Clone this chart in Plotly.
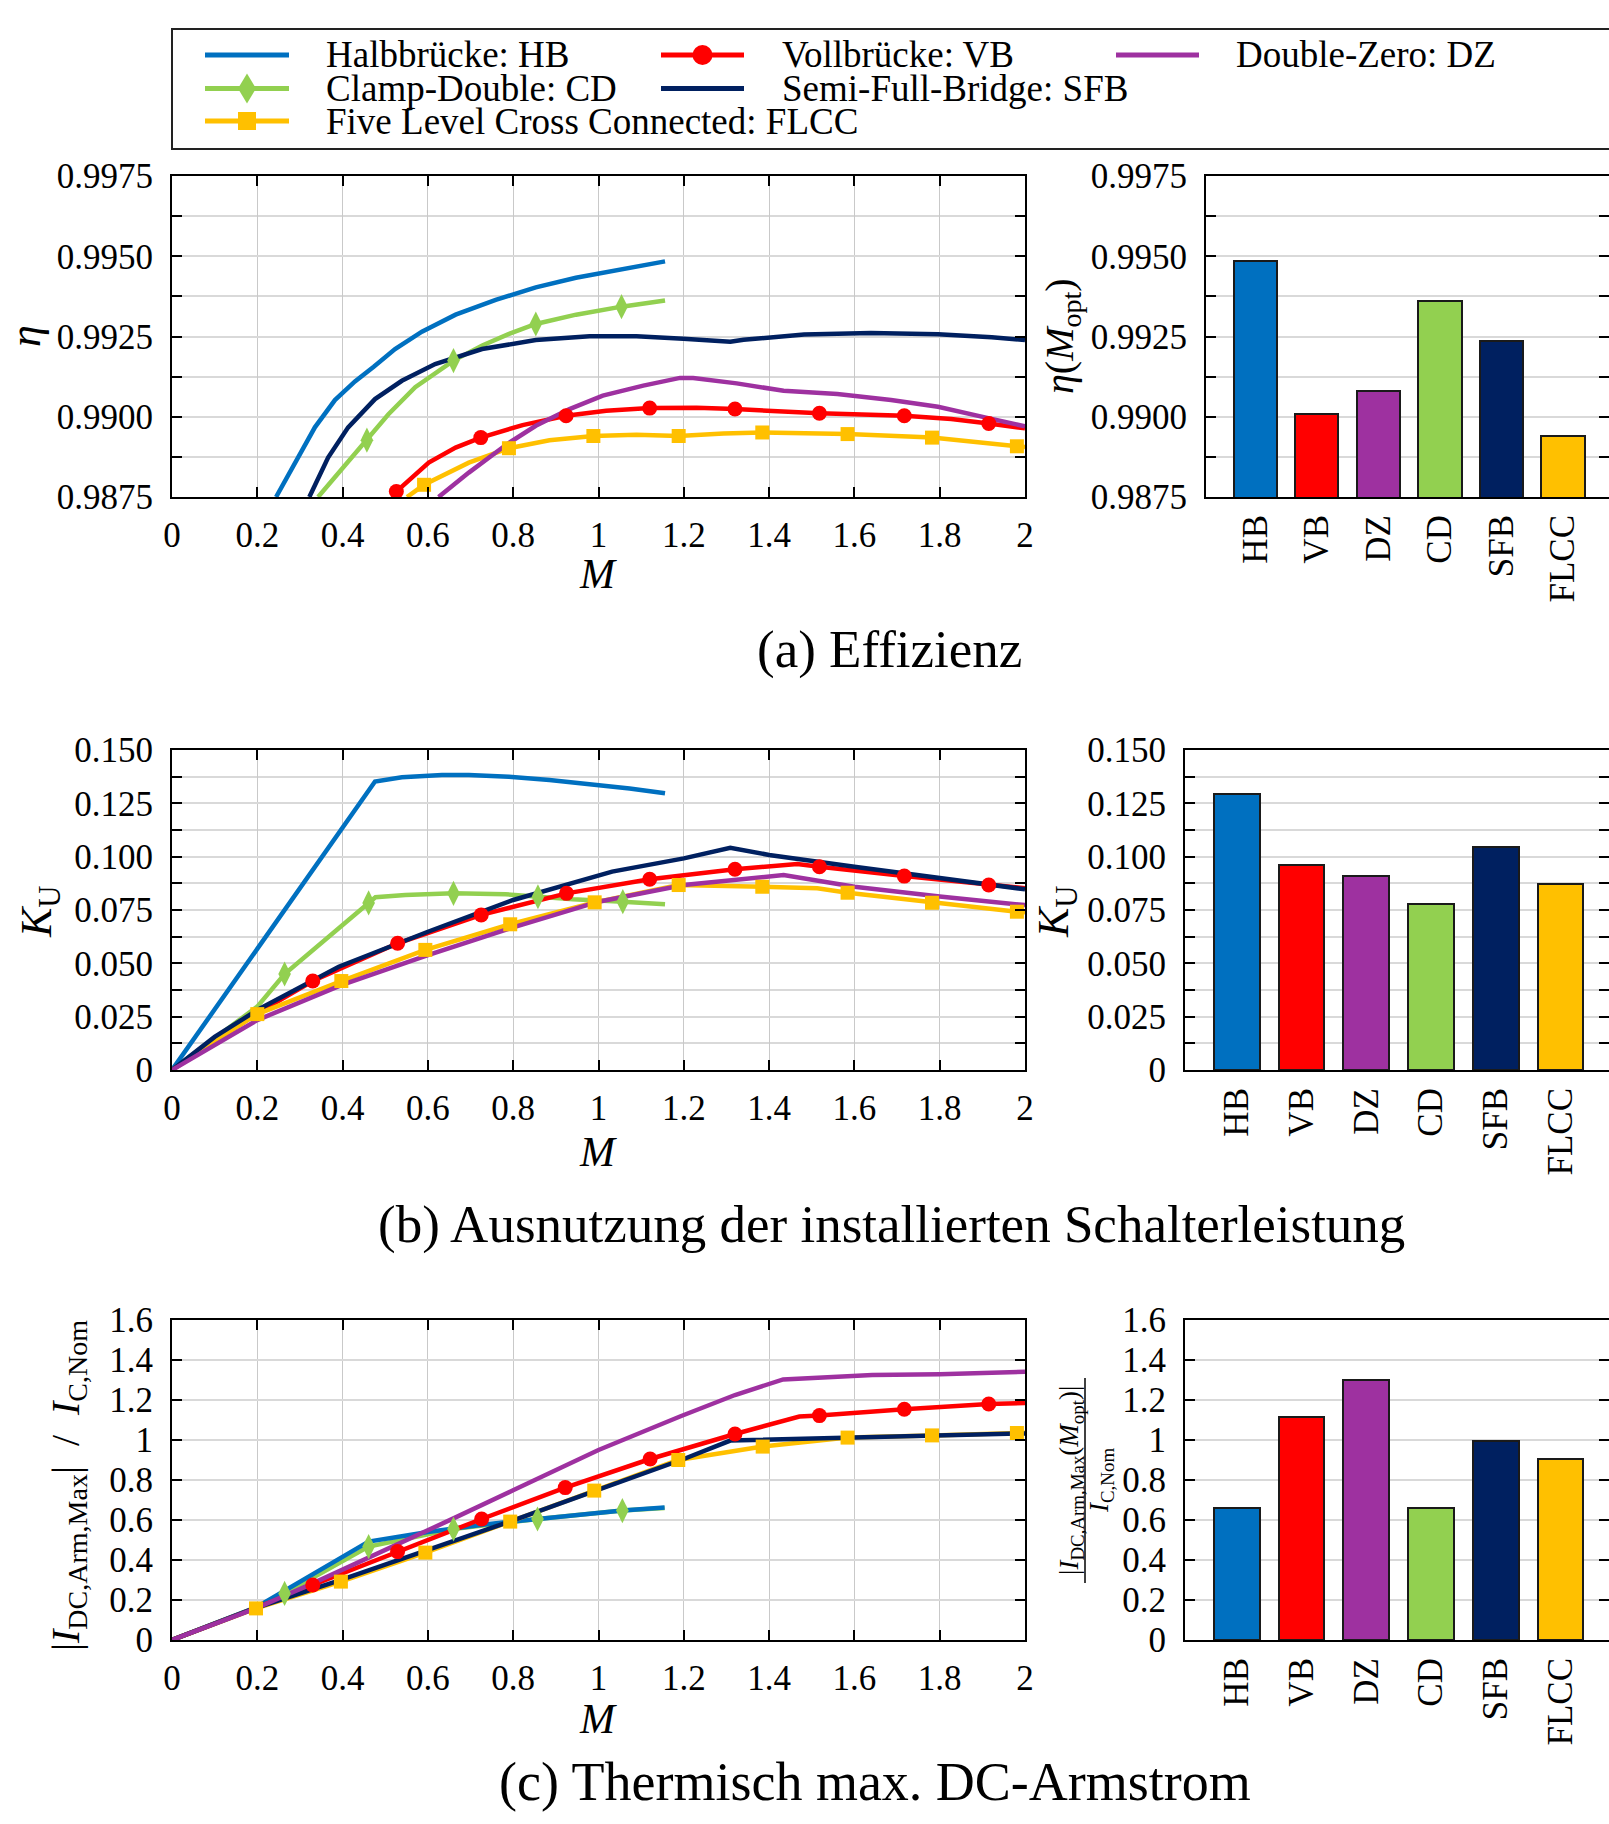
import plotly.graph_objects as go

W, H = 1609, 1824
FONT = "Liberation Serif"

# ---------------- colours ----------------
C_HB, C_VB, C_DZ = "#0070C0", "#FF0000", "#9E31A0"
C_CD, C_SFB, C_FLCC = "#92D050", "#002060", "#FFC000"

CATS = ["HB", "VB", "DZ", "CD", "SFB", "FLCC"]
CAT_COLORS = [C_HB, C_VB, C_DZ, C_CD, C_SFB, C_FLCC]

# ---------------- (a) efficiency ----------------
A_HB_M = [0.244, 0.288, 0.335, 0.382, 0.429, 0.473, 0.523, 0.586, 0.665, 0.759, 0.853, 0.947, 1.057, 1.156]
A_HB_Y = [0.9875, 0.98857, 0.98967, 0.99052, 0.99110, 0.99156, 0.99211, 0.99265, 0.99318, 0.99364, 0.99403, 0.99433, 0.99460, 0.99484]
A_CD_M = [0.3425, 0.3975, 0.457, 0.5075, 0.5703, 0.660, 0.7274, 0.7903, 0.853, 0.9474, 1.054, 1.156]
A_CD_Y = [0.9875, 0.98837, 0.98927, 0.99008, 0.99092, 0.99175, 0.99222, 0.99258, 0.99289, 0.99318, 0.99343, 0.99362]
A_CD_MK_M = [0.457, 0.660, 0.853, 1.054]
A_CD_MK_Y = [0.98927, 0.99175, 0.99289, 0.99343]
A_SFB_M = [0.322, 0.366, 0.413, 0.476, 0.539, 0.617, 0.727, 0.853, 0.979, 1.089, 1.199, 1.309, 1.340, 1.482, 1.639, 1.796, 1.922, 2.0]
A_SFB_Y = [0.9875, 0.98873, 0.98967, 0.99055, 0.99112, 0.99164, 0.99211, 0.99239, 0.99251, 0.99251, 0.99243, 0.99234, 0.99240, 0.99256, 0.99261, 0.99257, 0.99248, 0.99239]
A_VB_M = [0.520, 0.526, 0.602, 0.665, 0.724, 0.822, 0.924, 1.018, 1.120, 1.230, 1.320, 1.419, 1.518, 1.717, 1.827, 1.915, 2.0]
A_VB_Y = [0.9875, 0.98767, 0.98857, 0.98904, 0.98935, 0.98974, 0.99003, 0.99019, 0.99027, 0.99028, 0.99024, 0.99016, 0.99011, 0.99003, 0.98993, 0.98979, 0.98964]
A_VB_MK_M = [0.526, 0.724, 0.924, 1.120, 1.320, 1.518, 1.717, 1.915]
A_VB_MK_Y = [0.98767, 0.98935, 0.99003, 0.99027, 0.99024, 0.99011, 0.99003, 0.98979]
A_FLCC_M = [0.551, 0.591, 0.696, 0.790, 0.885, 0.988, 1.089, 1.188, 1.293, 1.384, 1.584, 1.782, 1.981, 2.0]
A_FLCC_Y = [0.9875, 0.98788, 0.98857, 0.98902, 0.98927, 0.98940, 0.98944, 0.98940, 0.98948, 0.98951, 0.98946, 0.98935, 0.98908, 0.98906]
A_FLCC_MK_M = [0.591, 0.790, 0.988, 1.188, 1.384, 1.584, 1.782, 1.981]
A_FLCC_MK_Y = [0.98788, 0.98902, 0.98940, 0.98940, 0.98951, 0.98946, 0.98935, 0.98908]
A_DZ_M = [0.625, 0.696, 0.786, 0.853, 0.932, 1.010, 1.105, 1.191, 1.222, 1.324, 1.434, 1.560, 1.686, 1.796, 1.906, 2.0]
A_DZ_Y = [0.9875, 0.98826, 0.98915, 0.98972, 0.99024, 0.99066, 0.99097, 0.99121, 0.99121, 0.99104, 0.99081, 0.99071, 0.99052, 0.99031, 0.98998, 0.98970]
BAR_A = [0.99485, 0.99010, 0.99079, 0.99362, 0.99235, 0.98940]

# ---------------- (b) switch utilisation ----------------
B_HB_M = [0, 0.476, 0.539, 0.633, 0.696, 0.790, 0.885, 0.979, 1.073, 1.156]
B_HB_Y = [0, 0.1352, 0.1372, 0.1383, 0.1383, 0.1375, 0.1359, 0.1341, 0.1320, 0.1297]
B_CD_M = [0, 0.2, 0.264, 0.477, 0.547, 0.660, 0.782, 0.858, 0.94, 1.057, 1.156]
B_CD_Y = [0, 0.0297, 0.0450, 0.0810, 0.0820, 0.0828, 0.0824, 0.0812, 0.0800, 0.0789, 0.0777]
B_CD_MK_M = [0.264, 0.461, 0.660, 0.858, 1.057]
B_CD_MK_Y = [0.0450, 0.0783, 0.0828, 0.0812, 0.0789]
B_VB_M = [0, 0.2, 0.330, 0.529, 0.725, 0.925, 1.12, 1.32, 1.466, 1.518, 1.717, 1.915, 2.0]
B_VB_Y = [0, 0.0266, 0.0417, 0.0594, 0.0727, 0.0828, 0.0894, 0.0941, 0.0966, 0.0953, 0.0909, 0.0867, 0.0852]
B_VB_MK_M = [0.330, 0.529, 0.725, 0.925, 1.12, 1.32, 1.518, 1.717, 1.915]
B_VB_MK_Y = [0.0417, 0.0594, 0.0727, 0.0828, 0.0894, 0.0941, 0.0953, 0.0909, 0.0867]
B_FLCC_M = [0, 0.1, 0.2, 0.397, 0.594, 0.793, 0.991, 1.188, 1.384, 1.513, 1.584, 1.782, 1.981, 2.0]
B_FLCC_Y = [0, 0.0135, 0.0262, 0.0417, 0.0563, 0.0683, 0.0786, 0.0867, 0.0859, 0.0852, 0.0831, 0.0784, 0.0742, 0.0740]
B_FLCC_MK_M = [0.2, 0.397, 0.594, 0.793, 0.991, 1.188, 1.384, 1.584, 1.782, 1.981]
B_FLCC_MK_Y = [0.0262, 0.0417, 0.0563, 0.0683, 0.0786, 0.0867, 0.0859, 0.0831, 0.0784, 0.0742]
B_SFB_M = [0, 0.1, 0.2, 0.391, 0.6, 0.8, 1.032, 1.2, 1.309, 1.4, 1.6, 1.8, 2.0]
B_SFB_Y = [0, 0.0155, 0.0281, 0.0484, 0.0648, 0.0797, 0.0930, 0.0992, 0.1042, 0.1008, 0.0953, 0.0898, 0.0847]
B_DZ_M = [0, 0.1, 0.2, 0.397, 0.6, 0.8, 1.0, 1.2, 1.434, 1.6, 1.8, 2.0]
B_DZ_Y = [0, 0.0120, 0.0234, 0.0398, 0.0539, 0.0669, 0.0789, 0.0867, 0.0914, 0.0859, 0.0813, 0.0773]
BAR_B = [0.1296, 0.0961, 0.0911, 0.0778, 0.1043, 0.0872]

# ---------------- (c) thermal max DC arm current ----------------
C_HB_M = [0, 0.199, 0.461, 0.6, 0.733, 0.857, 1.056, 1.155]
C_HB_Y = [0, 0.165, 0.492, 0.540, 0.578, 0.605, 0.647, 0.662]
C_CD_M = [0, 0.199, 0.264, 0.461, 0.660, 0.857, 1.056, 1.155]
C_CD_Y = [0, 0.165, 0.233, 0.467, 0.555, 0.605, 0.647, 0.660]
C_CD_MK_M = [0.264, 0.461, 0.660, 0.857, 1.056]
C_CD_MK_Y = [0.233, 0.467, 0.555, 0.605, 0.647]
C_VB_M = [0, 0.199, 0.330, 0.529, 0.726, 0.922, 1.121, 1.320, 1.471, 1.518, 1.717, 1.915, 2.0]
C_VB_Y = [0, 0.162, 0.275, 0.442, 0.605, 0.762, 0.905, 1.030, 1.117, 1.122, 1.154, 1.180, 1.185]
C_VB_MK_M = [0.330, 0.529, 0.726, 0.922, 1.121, 1.320, 1.518, 1.717, 1.915]
C_VB_MK_Y = [0.275, 0.442, 0.605, 0.762, 0.905, 1.030, 1.122, 1.154, 1.180]
C_FLCC_M = [0, 0.197, 0.396, 0.594, 0.793, 0.990, 1.187, 1.385, 1.584, 1.782, 1.981, 2.0]
C_FLCC_Y = [0, 0.158, 0.292, 0.437, 0.592, 0.747, 0.900, 0.967, 1.012, 1.023, 1.035, 1.036]
C_FLCC_MK_M = [0.197, 0.396, 0.594, 0.793, 0.990, 1.187, 1.385, 1.584, 1.782, 1.981]
C_FLCC_MK_Y = [0.158, 0.292, 0.437, 0.592, 0.747, 0.900, 0.967, 1.012, 1.023, 1.035]
C_SFB_M = [0, 0.199, 0.398, 0.6, 0.8, 1.0, 1.2, 1.309, 1.6, 1.8, 2.0]
C_SFB_Y = [0, 0.162, 0.302, 0.448, 0.598, 0.752, 0.905, 0.997, 1.012, 1.022, 1.033]
C_DZ_M = [0, 0.199, 0.330, 0.461, 0.6, 0.66, 0.801, 1.0, 1.194, 1.320, 1.433, 1.642, 1.8, 2.0]
C_DZ_Y = [0, 0.160, 0.283, 0.410, 0.545, 0.608, 0.750, 0.950, 1.120, 1.225, 1.303, 1.325, 1.329, 1.341]
BAR_C = [0.660, 1.115, 1.300, 0.660, 0.994, 0.904]

# tick labels
A_TICKS = [0.9875, 0.9900, 0.9925, 0.9950, 0.9975]
A_TICKTEXT = ["0.9875", "0.9900", "0.9925", "0.9950", "0.9975"]
A_MINOR = [0.98875, 0.99125, 0.99375, 0.99625]
B_TICKS = [0, 0.025, 0.05, 0.075, 0.1, 0.125, 0.15]
B_TICKTEXT = ["0", "0.025", "0.050", "0.075", "0.100", "0.125", "0.150"]
B_MINOR = [0.0125, 0.0375, 0.0625, 0.0875, 0.1125, 0.1375]
C_TICKS = [0, 0.2, 0.4, 0.6, 0.8, 1.0, 1.2, 1.4, 1.6]
C_TICKTEXT = ["0", "0.2", "0.4", "0.6", "0.8", "1", "1.2", "1.4", "1.6"]

LEGEND_LABELS = ["Halbbrücke: HB", "Vollbrücke: VB", "Double-Zero: DZ",
                 "Clamp-Double: CD", "Semi-Full-Bridge: SFB", "Five Level Cross Connected: FLCC"]


def px(x):
    return x / W


def py(y):
    return 1 - y / H


LW = 4.5
fig = go.Figure()


def add_lines(xa, ya, series):
    for m, v, col in series:
        fig.add_trace(go.Scatter(x=m, y=v, mode="lines", line=dict(color=col, width=LW),
                                 xaxis=xa, yaxis=ya, showlegend=False, hoverinfo="skip"))


def add_markers(xa, ya, series):
    for m, v, col, sym, size in series:
        fig.add_trace(go.Scatter(x=m, y=v, mode="markers",
                                 marker=dict(color=col, symbol=sym, size=size, line=dict(width=0)),
                                 xaxis=xa, yaxis=ya, showlegend=False, hoverinfo="skip"))


def add_bars(xa, ya, vals):
    fig.add_trace(go.Bar(x=CATS, y=vals, width=0.706,
                         marker=dict(color=CAT_COLORS, line=dict(color="#1a1a1a", width=2)),
                         xaxis=xa, yaxis=ya, showlegend=False, hoverinfo="skip"))


MK_CD = ("diamond-tall", 18)
MK_VB = ("circle", 15)
MK_FLCC = ("square", 14)

# (a)
add_lines("x", "y", [(A_CD_M, A_CD_Y, C_CD), (A_HB_M, A_HB_Y, C_HB), (A_VB_M, A_VB_Y, C_VB),
                     (A_FLCC_M, A_FLCC_Y, C_FLCC), (A_SFB_M, A_SFB_Y, C_SFB), (A_DZ_M, A_DZ_Y, C_DZ)])
add_markers("x", "y", [(A_CD_MK_M, A_CD_MK_Y, C_CD) + MK_CD, (A_VB_MK_M, A_VB_MK_Y, C_VB) + MK_VB,
                       (A_FLCC_MK_M, A_FLCC_MK_Y, C_FLCC) + MK_FLCC])
add_bars("x2", "y2", BAR_A)
# (b)
add_lines("x3", "y3", [(B_CD_M, B_CD_Y, C_CD), (B_HB_M, B_HB_Y, C_HB), (B_VB_M, B_VB_Y, C_VB),
                       (B_FLCC_M, B_FLCC_Y, C_FLCC), (B_SFB_M, B_SFB_Y, C_SFB), (B_DZ_M, B_DZ_Y, C_DZ)])
add_markers("x3", "y3", [(B_CD_MK_M, B_CD_MK_Y, C_CD) + MK_CD, (B_VB_MK_M, B_VB_MK_Y, C_VB) + MK_VB,
                         (B_FLCC_MK_M, B_FLCC_MK_Y, C_FLCC) + MK_FLCC])
add_bars("x4", "y4", BAR_B)
# (c)
add_lines("x5", "y5", [(C_CD_M, C_CD_Y, C_CD), (C_HB_M, C_HB_Y, C_HB), (C_VB_M, C_VB_Y, C_VB),
                       (C_FLCC_M, C_FLCC_Y, C_FLCC), (C_SFB_M, C_SFB_Y, C_SFB), (C_DZ_M, C_DZ_Y, C_DZ)])
add_markers("x5", "y5", [(C_CD_MK_M, C_CD_MK_Y, C_CD) + MK_CD, (C_VB_MK_M, C_VB_MK_Y, C_VB) + MK_VB,
                         (C_FLCC_MK_M, C_FLCC_MK_Y, C_FLCC) + MK_FLCC])
add_bars("x6", "y6", BAR_C)

# ---------------- axes ----------------
GRID_Y = "#d9d9d9"
GRID_X = "#c9c9c9"
TICKFONT = dict(family=FONT, size=35, color="black")

LINE_X_DOM = [px(172), px(1025)]
ROWS = [(176, 497), (750, 1070), (1320, 1640)]
BAR_X_DOM = [[px(1206), 1.0], [px(1185), 1.0], [px(1185), 1.0]]


def ydom(r):
    return [py(r[1]), py(r[0])]


def line_xaxis(anchor, r):
    return dict(domain=LINE_X_DOM, anchor=anchor, range=[0, 2], tick0=0, dtick=0.2,
                showline=True, linecolor="black", linewidth=2, mirror="ticks",
                ticks="inside", ticklen=10, tickwidth=1.5, tickcolor="black",
                showgrid=True, gridcolor=GRID_X, gridwidth=1.2, zeroline=False,
                tickfont=TICKFONT, ticklabelstandoff=6, automargin=False)


def yaxis_common(anchor, r, rng, tv, tt, minor_vals):
    d = dict(domain=ydom(r), anchor=anchor, range=rng, tickmode="array", tickvals=tv, ticktext=tt,
             showline=True, linecolor="black", linewidth=2, mirror="ticks",
             ticks="inside", ticklen=10, tickwidth=1.5, tickcolor="black",
             showgrid=True, gridcolor=GRID_Y, gridwidth=2, zeroline=False,
             tickfont=TICKFONT, ticklabelstandoff=10, automargin=False)
    if minor_vals:
        d["minor"] = dict(tickmode="array", tickvals=minor_vals, ticks="inside", ticklen=10,
                          tickwidth=1.5, tickcolor="black", showgrid=True, gridcolor=GRID_Y, gridwidth=2)
    return d


def bar_xaxis(anchor, dom):
    return dict(domain=dom, anchor=anchor, type="category", range=[-0.8, 5.75],
                showline=True, linecolor="black", linewidth=2, mirror=True,
                ticks="", showgrid=False, tickangle=-90, tickfont=TICKFONT, ticklabelstandoff=2,
                automargin=False)


layout_axes = {}
specs = [(A_TICKS, A_TICKTEXT, A_MINOR, [0.9875, 0.9975]),
         (B_TICKS, B_TICKTEXT, B_MINOR, [0, 0.15]),
         (C_TICKS, C_TICKTEXT, None, [0, 1.6])]
for i, (tv, tt, mn, rng) in enumerate(specs):
    li = 2 * i + 1
    bi = 2 * i + 2
    r = ROWS[i]
    layout_axes["xaxis" if li == 1 else f"xaxis{li}"] = line_xaxis("y" if li == 1 else f"y{li}", r)
    layout_axes["yaxis" if li == 1 else f"yaxis{li}"] = yaxis_common("x" if li == 1 else f"x{li}", r, rng, tv, tt, mn)
    layout_axes[f"xaxis{bi}"] = bar_xaxis(f"y{bi}", BAR_X_DOM[i])
    layout_axes[f"yaxis{bi}"] = yaxis_common(f"x{bi}", r, rng, tv, tt, mn)

fig.update_layout(**layout_axes)

# ---------------- annotations ----------------
ann = []


def text(x, y, s, size, angle=0, xanchor="center", yanchor="middle"):
    ann.append(dict(x=px(x), y=py(y), xref="paper", yref="paper", text=s, showarrow=False,
                    textangle=angle, xanchor=xanchor, yanchor=yanchor,
                    font=dict(family=FONT, size=size, color="black")))


# x-axis titles
for yy in (574, 1152, 1719):
    text(598, yy, "<i>M</i>", 42)
# captions
text(889, 649, "(a) Effizienz", 53)
text(891, 1224, "(b) Ausnutzung der installierten Schalterleistung", 53)
text(875, 1782, "(c) Thermisch max. DC-Armstrom", 54)
# y-axis titles
text(25, 336, "<i>η</i>", 44, -90)
text(1062, 336, "<i>η</i>(<i>M</i><sub>opt</sub>)", 40, -90)
text(39, 912, "<i>K</i><sub>U</sub>", 44, -90)
text(1056, 912, "<i>K</i><sub>U</sub>", 44, -90)
text(68, 1486, "|<i>I</i><sub>DC,Arm,Max</sub>|  /  <i>I</i><sub>C,Nom</sub>", 40, -90)
text(1071, 1481, "|<i>I</i><sub>DC,Arm,Max</sub>(<i>M</i><sub>opt</sub>)|", 27, -90)
text(1101, 1481, "<i>I</i><sub>C,Nom</sub>", 27, -90)

# ---------------- manual legend ----------------
shapes = []
shapes.append(dict(type="rect", xref="paper", yref="paper", x0=px(172), x1=1.01, y0=py(149), y1=py(29),
                   line=dict(color="#222222", width=2), fillcolor="rgba(0,0,0,0)"))
# fraction bar of right bottom label
shapes.append(dict(type="line", xref="paper", yref="paper", x0=px(1085), x1=px(1085), y0=py(1583), y1=py(1378),
                   line=dict(color="black", width=1.5)))

LEG_ROWS = [55, 88.5, 121]
LEG_COLS = [(205, 289, 324), (661, 744, 780), (1116, 1199, 1234)]
LEG_ITEMS = [(0, 0, C_HB, None), (0, 1, C_VB, "circle"), (0, 2, C_DZ, None),
             (1, 0, C_CD, "diamond"), (1, 1, C_SFB, None), (2, 0, C_FLCC, "square")]
for (r, c, col, sym), lab in zip(LEG_ITEMS, LEGEND_LABELS):
    yy = LEG_ROWS[r]
    x0, x1, tx = LEG_COLS[c]
    shapes.append(dict(type="line", xref="paper", yref="paper", x0=px(x0), x1=px(x1), y0=py(yy), y1=py(yy),
                       line=dict(color=col, width=5)))
    cx = (x0 + x1) / 2
    if sym == "circle":
        shapes.append(dict(type="circle", xref="paper", yref="paper", x0=px(cx - 10), x1=px(cx + 10),
                           y0=py(yy + 10), y1=py(yy - 10), fillcolor=col, line=dict(color=col, width=0)))
    elif sym == "square":
        shapes.append(dict(type="rect", xref="paper", yref="paper", x0=px(cx - 9), x1=px(cx + 9),
                           y0=py(yy + 9), y1=py(yy - 9), fillcolor=col, line=dict(color=col, width=0)))
    elif sym == "diamond":
        path = "M {} {} L {} {} L {} {} L {} {} Z".format(px(cx), py(yy - 15), px(cx + 9), py(yy),
                                                            px(cx), py(yy + 15), px(cx - 9), py(yy))
        shapes.append(dict(type="path", xref="paper", yref="paper", path=path, fillcolor=col,
                           line=dict(color=col, width=0)))
    text(tx, yy, lab, 37, xanchor="left")

fig.update_layout(width=W, height=H, autosize=False, margin=dict(l=0, r=0, t=0, b=0, pad=0),
                  paper_bgcolor="white", plot_bgcolor="white",
                  font=dict(family=FONT, size=34, color="black"),
                  showlegend=False, annotations=ann, shapes=shapes, bargap=0)

fig.write_html("out.html", config={"displayModeBar": False, "responsive": False},
               post_script="document.body.style.margin='0';document.body.style.overflow='hidden';")
